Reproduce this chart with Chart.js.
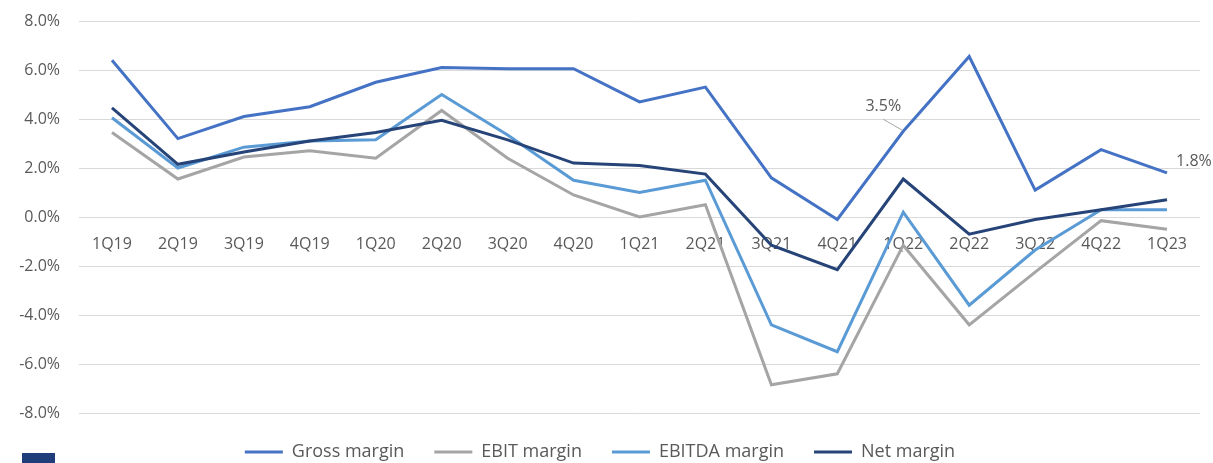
<!DOCTYPE html>
<html>
<head>
<meta charset="utf-8">
<script src="https://cdn.jsdelivr.net/npm/chart.js@4"></script>
<style>
  body { margin: 0; background: #fff; }
  #wrap { position: relative; width: 1213px; height: 463px; }
  #logo { position: absolute; left: 22px; top: 453px; width: 33px; height: 10px; background: #1f3d7a; }
</style>
</head>
<body>
<div id="wrap">
  <canvas id="margins" width="1213" height="463"></canvas>
  <div id="logo"></div>
</div>
<script>
const quarters = ['1Q19', '2Q19', '3Q19', '4Q19', '1Q20', '2Q20', '3Q20', '4Q20', '1Q21', '2Q21',
    '3Q21', '4Q21', '1Q22', '2Q22', '3Q22', '4Q22', '1Q23'];

const grossMargin = [6.4, 3.2, 4.1, 4.5, 5.5, 6.1, 6.05, 6.05, 4.7, 5.3, 1.6, -0.1, 3.5, 6.55, 1.1, 2.75, 1.8];
const ebitMargin = [3.45, 1.55, 2.45, 2.7, 2.4, 4.35, 2.4, 0.9, 0.0, 0.5, -6.85, -6.4, -1.15, -4.4, -2.25, -0.15, -0.5];
const ebitdaMargin = [4.05, 2.0, 2.85, 3.1, 3.15, 5.0, 3.35, 1.5, 1.0, 1.5, -4.4, -5.5, 0.2, -3.6, -1.35, 0.3, 0.3];
const netMargin = [4.45, 2.15, 2.65, 3.1, 3.45, 3.95, 3.15, 2.2, 2.1, 1.75, -1.15, -2.15, 1.55, -0.7, -0.1, 0.3, 0.7];

// labels shown on the gross margin line: index -> text
const grossLabels = { 12: '3.5%', 16: '1.8%' };

const textColor = '#595959';

// draws the two value labels on the gross margin series
const valueLabels = {
    id: 'valueLabels',
    afterDatasetsDraw(chart) {
        const meta = chart.getDatasetMeta(0);
        const ctx = chart.ctx;
        ctx.save();
        ctx.font = '16px "Open Sans"';
        ctx.fillStyle = textColor;
        ctx.textBaseline = 'middle';

        const p1 = meta.data[12];
        ctx.strokeStyle = '#a6a6a6';
        ctx.lineWidth = 1;
        ctx.beginPath();
        ctx.moveTo(p1.x - 20, p1.y - 12);
        ctx.lineTo(p1.x - 1, p1.y - 1);
        ctx.stroke();
        ctx.textAlign = 'center';
        ctx.fillText(grossLabels[12], p1.x - 20, p1.y - 25);

        const p2 = meta.data[16];
        ctx.textAlign = 'left';
        ctx.fillText(grossLabels[16], p2.x + 9, p2.y - 11);
        ctx.restore();
    }
};

// keep the wide gaps between legend items but a short legend box
const legendHeight = {
    id: 'legendHeight',
    afterInit(chart) {
        const legend = chart.legend;
        const fit = legend.fit.bind(legend);
        legend.fit = function () {
            fit();
            this.height = 50;
        };
    }
};

new Chart(document.getElementById('margins'), {
    type: 'line',
    data: {
        labels: quarters,
        datasets: [
            { label: 'Gross margin', data: grossMargin, borderColor: '#4472c4', backgroundColor: '#4472c4', borderWidth: 3, order: 4 },
            { label: 'EBIT margin', data: ebitMargin, borderColor: '#a5a5a5', backgroundColor: '#a5a5a5', borderWidth: 3, order: 3 },
            { label: 'EBITDA margin', data: ebitdaMargin, borderColor: '#5b9bd5', backgroundColor: '#5b9bd5', borderWidth: 3, order: 2 },
            { label: 'Net margin', data: netMargin, borderColor: '#264478', backgroundColor: '#264478', borderWidth: 3, order: 1 }
        ]
    },
    options: {
        responsive: false,
        devicePixelRatio: 1,
        animation: false,
        layout: {
            padding: { top: 0, right: 13, left: 0, bottom: 0 }
        },
        elements: {
            line: { borderWidth: 3, tension: 0 },
            point: { radius: 0, hoverRadius: 0 }
        },
        scales: {
            x: {
                position: { y: 0 },
                offset: true,
                grid: { display: false, drawTicks: false },
                border: { display: false },
                ticks: {
                    color: textColor,
                    padding: 18,
                    maxRotation: 0,
                    autoSkip: false,
                    font: { family: 'Open Sans', size: 16 }
                }
            },
            y: {
                min: -8,
                max: 8,
                afterFit(scale) {
                    scale.width = 79;
                    scale.paddingTop = 21;
                    scale.paddingBottom = 10;
                },
                grid: { color: '#d9d9d9', drawTicks: false },
                border: { display: false },
                ticks: {
                    stepSize: 2,
                    color: textColor,
                    padding: 19,
                    font: { family: 'Open Sans', size: 16 },
                    callback: (v) => v.toFixed(1) + '%'
                }
            }
        },
        plugins: {
            tooltip: { enabled: false },
            legend: {
                position: 'bottom',
                labels: {
                    color: textColor,
                    font: { family: 'Open Sans', size: 18 },
                    usePointStyle: true,
                    pointStyle: 'line',
                    pointStyleWidth: 38,
                    padding: 30,
                    sort: (a, b) => a.datasetIndex - b.datasetIndex
                }
            }
        }
    },
    plugins: [valueLabels, legendHeight]
});
</script>
</body>
</html>
